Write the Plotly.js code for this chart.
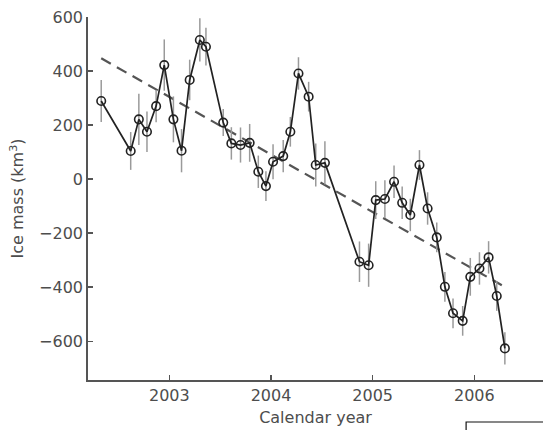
<!DOCTYPE html>
<html>
<head>
<meta charset="utf-8">
<script src="https://cdn.plot.ly/plotly-3.0.1.min.js"></script>
<style>html,body{margin:0;padding:0;background:#fff;}#chart{width:543px;height:430px;}</style>
</head>
<body>
<div id="chart"></div>
<script>
// Decimal calendar year of each observation
var years = [2002.33, 2002.62, 2002.70, 2002.78, 2002.87, 2002.95, 2003.04, 2003.12, 2003.20,
  2003.30, 2003.36, 2003.53, 2003.61, 2003.70, 2003.79, 2003.875, 2003.95, 2004.02, 2004.12,
  2004.19, 2004.27, 2004.37, 2004.44, 2004.53, 2004.87, 2004.96, 2005.03, 2005.12, 2005.21,
  2005.29, 2005.37, 2005.46, 2005.54, 2005.63, 2005.71, 2005.79, 2005.885, 2005.96, 2006.05,
  2006.14, 2006.22, 2006.30];
// Ice mass (km^3)
var iceMass = [289, 104, 221, 175, 270, 422, 221, 105, 367,
  515, 490, 209, 132, 126, 134, 27, -26, 64, 85,
  175, 391, 305, 52, 60, -306, -319, -78, -74, -10,
  -88, -133, 52, -109, -216, -399, -497, -525, -362, -331,
  -290, -433, -627];
// Uncertainty (km^3)
var iceErr = [78, 70, 95, 75, 60, 95, 85, 80, 75,
  80, 70, 50, 60, 65, 70, 60, 55, 65, 60,
  55, 60, 55, 80, 80, 75, 80, 70, 70, 60,
  60, 60, 55, 60, 55, 55, 55, 55, 70, 60,
  60, 55, 60];
// Linear trend end points
var trendYears = [2002.33, 2006.27];
var trendMass = [447, -393];
// Axis ticks
var xTicks = [2003, 2004, 2005, 2006];
var xTickText = ['2003', '2004', '2005', '2006'];
var yTicks = [-600, -400, -200, 0, 200, 400, 600];
var yTickText = ['\u2212600', '\u2212400', '\u2212200', '0', '200', '400', '600'];

var fontFam = 'DejaVu Sans, Arial, sans-serif';
var txtCol = '#4d4d4d';

var traces = [
  {
    x: trendYears, y: trendMass, type: 'scatter', mode: 'lines',
    line: {color: '#555', width: 2.2, dash: '11px,7px'},
    hoverinfo: 'skip', showlegend: false
  },
  {
    x: years, y: iceMass, type: 'scatter', mode: 'lines+markers',
    line: {color: '#222', width: 1.7},
    marker: {symbol: 'circle-open', size: 8.5, color: '#222', line: {width: 1.6, color: '#222'}},
    error_y: {type: 'data', array: iceErr, visible: true, color: '#9a9a9a', thickness: 1.5, width: 0},
    showlegend: false
  }
];

var layout = {
  width: 543, height: 430,
  margin: {l: 88, r: 0, t: 17, b: 50},
  paper_bgcolor: '#fff', plot_bgcolor: '#fff',
  font: {family: fontFam, size: 16, color: txtCol},
  xaxis: {
    range: [2002.2, 2006.675],
    tickvals: xTicks, ticktext: xTickText,
    ticks: 'inside', ticklen: 5, tickcolor: '#555', tickwidth: 1.2,
    showline: true, linecolor: '#555', linewidth: 1.8,
    showgrid: false, zeroline: false,
    tickfont: {family: fontFam, size: 16, color: txtCol},
    title: {text: 'Calendar year', font: {family: fontFam, size: 16, color: txtCol}, standoff: 8}
  },
  yaxis: {
    range: [-744, 600],
    tickvals: yTicks, ticktext: yTickText,
    ticks: 'inside', ticklen: 5, tickcolor: '#555', tickwidth: 1.2,
    showline: true, linecolor: '#555', linewidth: 1.8,
    showgrid: false, zeroline: false,
    tickfont: {family: fontFam, size: 16, color: txtCol},
    title: {text: 'Ice mass (km<sup>3</sup>)', font: {family: fontFam, size: 16, color: txtCol}, standoff: 11}
  },
  shapes: [
    {type: 'rect', xref: 'paper', yref: 'paper', x0: 0.831, x1: 1.05, y0: -0.25, y1: -0.1157,
     line: {color: '#111', width: 1.2}, fillcolor: 'rgba(0,0,0,0)'}
  ],
  annotations: [
    {xref: 'paper', yref: 'paper', x: 0.8835, y: -0.1295, xanchor: 'left', yanchor: 'top',
     text: 'Ga', showarrow: false, font: {family: fontFam, size: 16, color: '#333'}}
  ]
};

Plotly.newPlot('chart', traces, layout, {displayModeBar: false, staticPlot: true});
</script>
</body>
</html>
